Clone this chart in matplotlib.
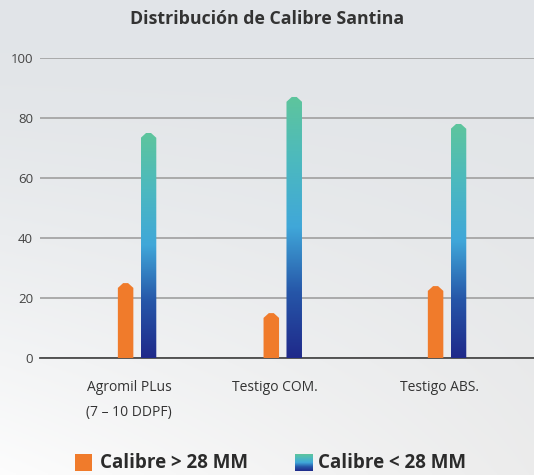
import matplotlib.pyplot as plt
import numpy as np
from matplotlib.patches import Polygon, Rectangle
from matplotlib.colors import LinearSegmentedColormap

# datos
categorias = ["Agromil PLus\n(7 – 10 DDPF)", "Testigo COM.", "Testigo ABS."]
calibre_mayor = [25, 15, 24]   # Calibre > 28 MM
calibre_menor = [75, 87, 78]   # Calibre < 28 MM
yticks = [0, 20, 40, 60, 80, 100]

naranja = "#f07b2b"
degradado = LinearSegmentedColormap.from_list(
    "calibre", ["#1f298a", "#2656a8", "#40a7d9", "#4cb9bf", "#5ec59c"])

plt.rcParams["font.family"] = ["Open Sans", "DejaVu Sans"]

fig = plt.figure(figsize=(5.34, 4.75), dpi=100)

# fondo gris claro con degradado (arriba gris, abajo casi blanco)
bg = fig.add_axes([0, 0, 1, 1], zorder=-10)
yy, xx = np.mgrid[0:1:200j, 0:1:200j]
arriba = np.array([0.886, 0.898, 0.910])
abajo_izq = np.array([0.99, 0.99, 0.99])
abajo_der = np.array([0.925, 0.925, 0.925])
t = np.clip((yy - 0.1) / 0.9, 0, 1)[..., None] ** 1.3
abajo = abajo_izq * (1 - xx[..., None]) + abajo_der * xx[..., None]
img = arriba * (1 - t) + abajo * t
bg.imshow(img, aspect="auto", extent=[0, 1, 0, 1])
bg.axis("off")

ax = fig.add_axes([0.075, 0.246, 0.925, 0.632])
ax.patch.set_alpha(0)

x = np.array([0, 0.94, 2.0])
w = 0.1
off = 0.074
cap = 1.6


def forma_barra(xc, v):
    return [(xc - w / 2, 0), (xc + w / 2, 0), (xc + w / 2, v - cap),
            (xc + w * 0.16, v), (xc - w * 0.16, v), (xc - w / 2, v - cap)]


grad = np.linspace(0, 1, 256).reshape(-1, 1)
for xc, v1, v2 in zip(x, calibre_mayor, calibre_menor):
    ax.add_patch(Polygon(forma_barra(xc - off, v1), facecolor=naranja,
                         edgecolor="none", zorder=3))
    poly = Polygon(forma_barra(xc + off, v2), facecolor="none",
                   edgecolor="none", zorder=3)
    ax.add_patch(poly)
    im = ax.imshow(grad, extent=[xc + off - w / 2, xc + off + w / 2, 0, v2],
                   cmap=degradado, aspect="auto", origin="lower", zorder=3)
    im.set_clip_path(poly)

ax.set_xlim(-0.626, 2.561)
ax.set_ylim(0, 100)
ax.set_yticks(yticks)
ax.set_xticks(x - 0.05)
ax.set_xticklabels(categorias, linespacing=1.9)
ax.yaxis.grid(True, color="#a5a5a5", lw=1.3)
ax.set_axisbelow(True)
for s in ["top", "right", "left"]:
    ax.spines[s].set_visible(False)
ax.spines["bottom"].set_color("#4a4a4a")
ax.spines["bottom"].set_linewidth(1.3)
ax.spines["bottom"].set_zorder(2)
ax.tick_params(axis="y", length=0, pad=5, labelsize=9.5, labelcolor="#444444")
ax.tick_params(axis="x", length=0, pad=16, labelsize=10, labelcolor="#333333")

fig.text(0.5, 1 - 19 / 475, "Distribución de Calibre Santina", ha="center",
         va="center", fontsize=12.8, fontweight="bold", color="#333333")

# leyenda
fig.patches.append(Rectangle((75 / 534, 1 - 471 / 475), 17 / 534, 17 / 475,
                             transform=fig.transFigure, facecolor=naranja,
                             edgecolor="none"))
fig.text(100 / 534, 1 - 463 / 475, "Calibre > 28 MM", ha="left", va="center",
         fontsize=13.5, fontweight="bold", color="#2b2b2b")
sw = fig.add_axes([295 / 534, 1 - 471 / 475, 18 / 534, 17 / 475])
sw.imshow(grad, cmap=degradado, aspect="auto", origin="lower")
sw.axis("off")
fig.text(318 / 534, 1 - 463 / 475, "Calibre < 28 MM", ha="left", va="center",
         fontsize=13.5, fontweight="bold", color="#2b2b2b")

fig.savefig("out.png", dpi=100)
